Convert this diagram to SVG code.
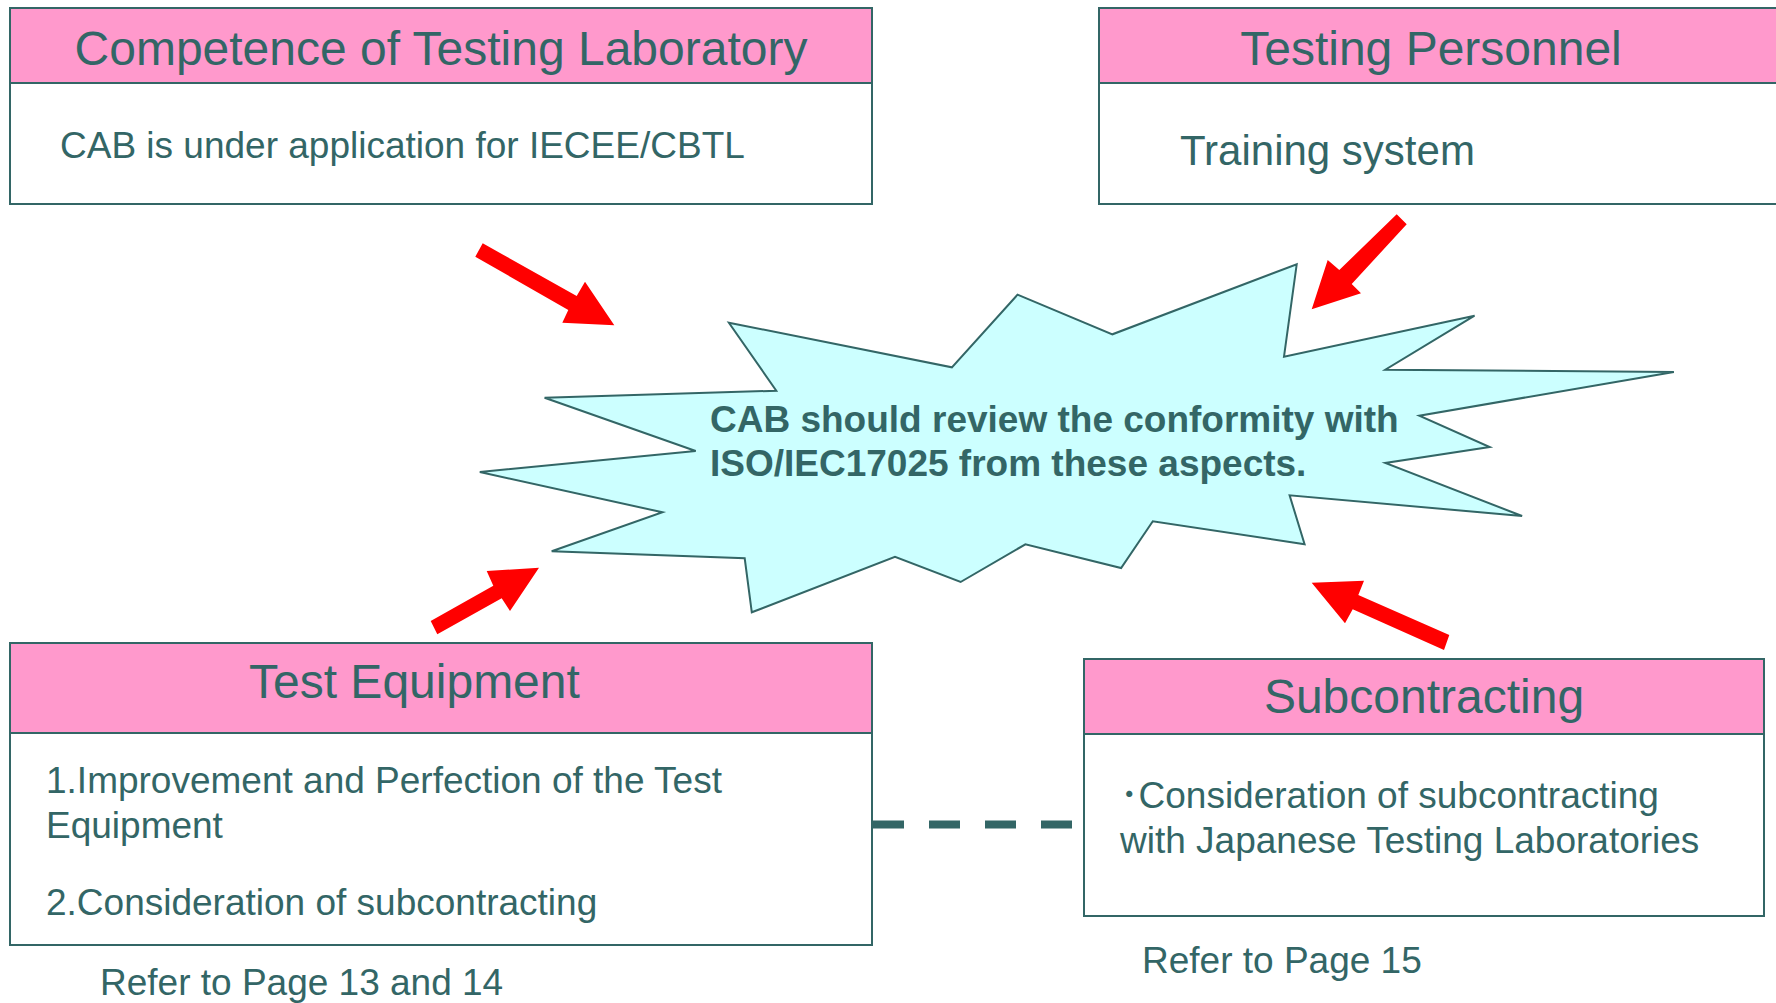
<svg xmlns="http://www.w3.org/2000/svg" width="1776" height="1003" viewBox="0 0 1776 1003">
<style>
.box{fill:#FFFFFF;stroke:#336666;stroke-width:2}
.hdr{fill:#FF99CC;stroke:#336666;stroke-width:2}
.t{font-family:"Liberation Sans","Noto Sans CJK JP",Arial,sans-serif;fill:#336666}
.h{font-size:48px}
.b{font-size:37px}
.arrow{fill:#FF0000}
</style>
<rect width="1776" height="1003" fill="#FFFFFF"/>

<g id="star">
<polygon points="728.9,322.7 951.9,367.3 1017.5,294.7 1112.4,334.3 1296.7,264.3 1284,356.7 1474.6,315.7 1385.3,369.7 1673.9,372 1419.3,415.7 1489.7,447 1385.3,463 1522.1,516 1289.6,495.3 1304.6,544.3 1152.8,521.3 1121.1,568 1025.4,544.3 960.6,582 895,556.7 751.8,612.3 744.7,558.3 551.7,551.3 662.5,512.3 479.8,472 695.7,451 544.6,397.7 776.3,390.7" fill="#CCFFFF" stroke="#336666" stroke-width="2" stroke-linejoin="miter"/>
<text class="t" x="710" y="432" font-size="37" font-weight="bold">CAB should review the conformity with</text>
<text class="t" x="710" y="476" font-size="37" font-weight="bold">ISO/IEC17025 from these aspects.</text>
</g>

<g id="competence">
<rect class="box" x="10" y="8" width="862" height="196"/>
<rect class="hdr" x="10" y="8" width="862" height="75"/>
<text class="t h" x="441" y="65" text-anchor="middle">Competence of Testing Laboratory</text>
<text class="t b" x="60" y="158">CAB is under application for IECEE/CBTL</text>
</g>

<g id="personnel">
<rect class="box" x="1099" y="8" width="700" height="196"/>
<rect class="hdr" x="1099" y="8" width="700" height="75"/>
<text class="t h" x="1431" y="65" text-anchor="middle">Testing Personnel</text>
<text class="t" x="1180" y="165" font-size="42">Training system</text>
</g>

<g id="equipment">
<rect class="box" x="10" y="643" width="862" height="302"/>
<rect class="hdr" x="10" y="643" width="862" height="90"/>
<text class="t h" x="249" y="698">Test Equipment</text>
<text class="t b" x="46" y="793">1.Improvement and Perfection of the Test</text>
<text class="t b" x="46" y="838">Equipment</text>
<text class="t b" x="46" y="915">2.Consideration of subcontracting</text>
</g>
<text class="t b" x="100" y="995">Refer to Page 13 and 14</text>

<g id="subcontracting">
<rect class="box" x="1084" y="659" width="680" height="257"/>
<rect class="hdr" x="1084" y="659" width="680" height="75"/>
<text class="t h" x="1424" y="713" text-anchor="middle">Subcontracting</text>
<text class="t b" x="1120" y="808">･Consideration of subcontracting</text>
<text class="t b" x="1120" y="853">with Japanese Testing Laboratories</text>
</g>
<text class="t b" x="1142" y="973">Refer to Page 15</text>

<g id="connectors">
<line x1="873" y1="824.5" x2="1072" y2="824.5" stroke="#336666" stroke-width="8" stroke-dasharray="31 25"/>
<polygon class="arrow" points="482.7,243.3 576.7,296 585,281.7 614.3,325.3 562.3,322.7 568.3,310 475.3,256.7"/>
<polygon class="arrow" points="1396.7,214.3 1339.3,270 1327.7,260 1311.7,309.3 1361,293.3 1351.7,284 1406.7,224.3"/>
<polygon class="arrow" points="430.7,621 493.3,585.7 486.7,571 539,567.7 510,611 501.7,598.3 437.3,634.3"/>
<polygon class="arrow" points="1311.7,582.7 1364,580.7 1358.3,595 1449.3,635 1444,650 1352.7,609.3 1345,623.3"/>
</g>
</svg>
